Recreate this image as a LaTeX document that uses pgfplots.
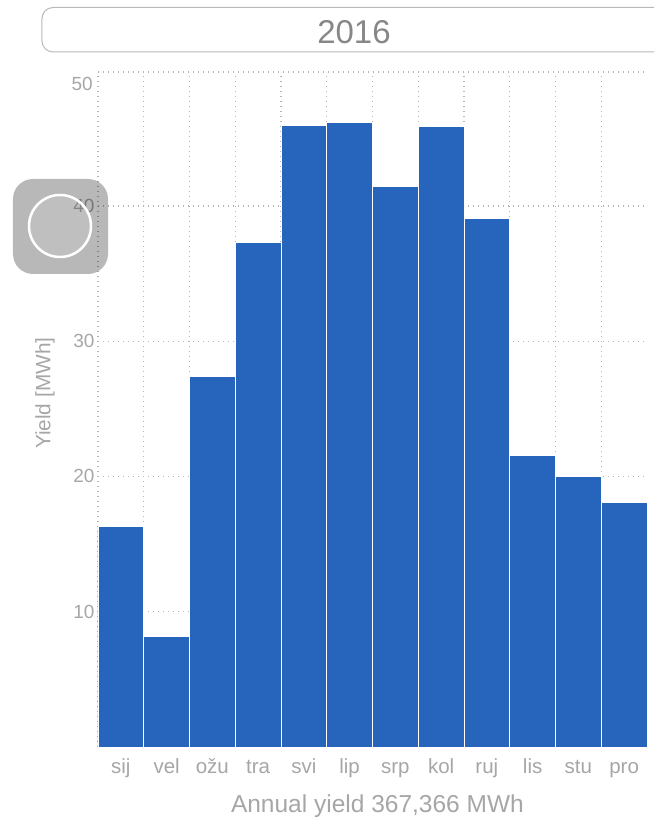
\documentclass[border=0pt]{standalone}
\usepackage{fontspec}
\setmainfont{Liberation Sans}
\usepackage{pgfplots}
\pgfplotsset{compat=1.18}
\definecolor{barblue}{HTML}{2764BC}
\definecolor{labelgray}{HTML}{A6A6A6}
\definecolor{gridgray}{HTML}{B4B4B4}
\begin{document}
\begin{tikzpicture}[x=1pt,y=1pt]
\useasboundingbox (-98,-72) rectangle (556,747);
\begin{axis}[
    at={(0pt,0pt)}, anchor=south west,
    scale only axis,
    width=549pt, height=675pt,
    xmin=0, xmax=12,
    ymin=0, ymax=49.9,
    axis line style={draw=none},
    major tick length=0pt,
    minor tick length=0pt,
    xtick={0.5,1.5,...,11.5},
    xticklabels={sij,vel,ožu,tra,svi,lip,srp,kol,ruj,lis,stu,pro},
    minor xtick={0,1,...,11},
    xminorgrids=true,
    ytick={10,20,30,40},
    extra y ticks={49.9},
    extra y tick labels={},
    extra y tick style={ymajorgrids=true},
    ymajorgrids=true,
    grid style={gridgray, line width=1.3pt, dash pattern=on 1.3pt off 3.7pt},
    minor grid style={gridgray, line width=1.3pt, dash pattern=on 1.3pt off 3.7pt},
    /pgf/number format/assume math mode=true,
    tick label style={font=\fontsize{19}{21}\selectfont, text=labelgray},
    xticklabel style={font=\fontsize{20.5}{22}\selectfont, anchor=base, yshift=-26pt},
    xlabel={Annual yield 367,366 MWh},
    xlabel style={font=\fontsize{24.5}{26}\selectfont, text=labelgray, at={(axis description cs:0.509,0)}, anchor=center, yshift=-59pt},
    ylabel={Yield [MWh]},
    ylabel style={font=\fontsize{20.8}{23}\selectfont, text=labelgray, at={(axis description cs:0,0.524)}, anchor=center, yshift=53pt},
    clip=false,
]
\addplot[ybar, bar width=1, bar shift=0pt, fill=barblue, draw=white, line width=0.6pt]
    coordinates {
    (0.5,16.3)(1.5,8.18)(2.5,27.4)(3.5,37.3)(4.5,45.95)(5.5,46.15)
    (6.5,41.45)(7.5,45.85)(8.5,39.05)(9.5,21.55)(10.5,20.0)(11.5,18.08)
    };
\node[anchor=east, font=\fontsize{19}{21}\selectfont, text=labelgray, inner sep=0pt, xshift=-5pt] at (axis cs:0,49.0) {50};
\end{axis}
% title box, runs off the right edge
\draw[color=gray!55, line width=1pt, rounded corners=11pt] (556,739.5) -- (-56,739.5) -- (-56,695) -- (556,695);
\node[font=\fontsize{33}{35}\selectfont, text=black!47] at (256,715) {2016};
% grey floating button over the chart
\fill[black, opacity=0.28, rounded corners=20pt] (-85,473) rectangle (10,568);
\fill[white, opacity=0.1] (-38,521) circle (31pt);
\draw[white, line width=2.5pt] (-38,521) circle (31pt);
\end{tikzpicture}
\end{document}
